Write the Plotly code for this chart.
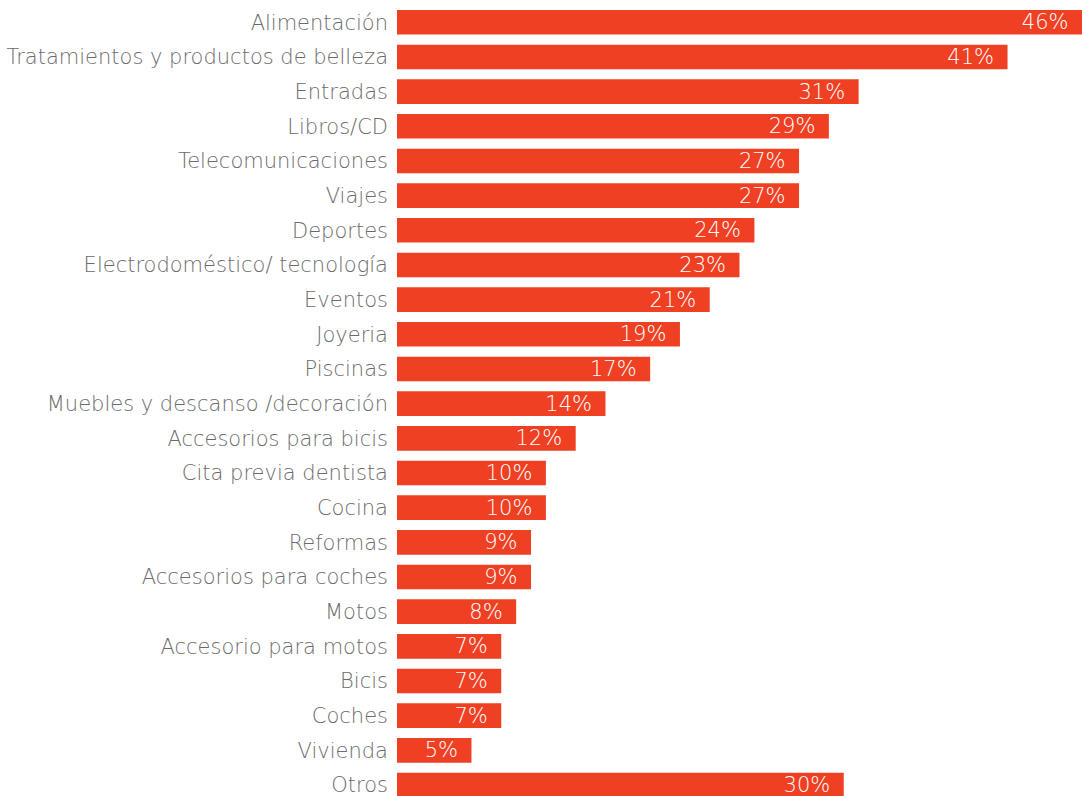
import plotly.graph_objects as go

# Share of respondents per category (%)
categories = [
    "Alimentación", "Tratamientos y productos de belleza", "Entradas", "Libros/CD",
    "Telecomunicaciones", "Viajes", "Deportes", "Electrodoméstico/ tecnología",
    "Eventos", "Joyeria", "Piscinas", "Muebles y descanso /decoración",
    "Accesorios para bicis", "Cita previa dentista", "Cocina", "Reformas",
    "Accesorios para coches", "Motos", "Accesorio para motos", "Bicis",
    "Coches", "Vivienda", "Otros",
]
values = [46, 41, 31, 29, 27, 27, 24, 23, 21, 19, 17, 14, 12, 10, 10, 9, 9, 8, 7, 7, 7, 5, 30]

BAR_COLOR = "#EF4023"
LABEL_COLOR = "#6b6b6b"
FONT = "DejaVu Sans"

fig = go.Figure(
    go.Bar(
        x=values,
        y=categories,
        orientation="h",
        marker=dict(color=BAR_COLOR, line=dict(width=0)),
        text=[f"{v}%\u2002" for v in values],
        textposition="inside",
        insidetextanchor="end",
        constraintext="none",
        textfont=dict(color="white", size=21, family=FONT, weight=200),
        cliponaxis=False,
        hoverinfo="skip",
    )
)

fig.update_layout(
    width=1082,
    height=796,
    margin=dict(l=397, r=0, t=0, b=0),
    paper_bgcolor="white",
    plot_bgcolor="white",
    bargap=0.29,
    showlegend=False,
    font=dict(family=FONT, weight=200),
    xaxis=dict(
        range=[0, 46],
        visible=False,
        showgrid=False,
        zeroline=False,
    ),
    yaxis=dict(
        type="category",
        categoryorder="array",
        categoryarray=categories,
        range=[22.317, -0.643],
        showgrid=False,
        zeroline=False,
        showline=False,
        ticks="",
        ticklabelstandoff=8,
        tickfont=dict(size=21, color=LABEL_COLOR, family=FONT, weight=200),
    ),
)

fig.write_html("out.html")
